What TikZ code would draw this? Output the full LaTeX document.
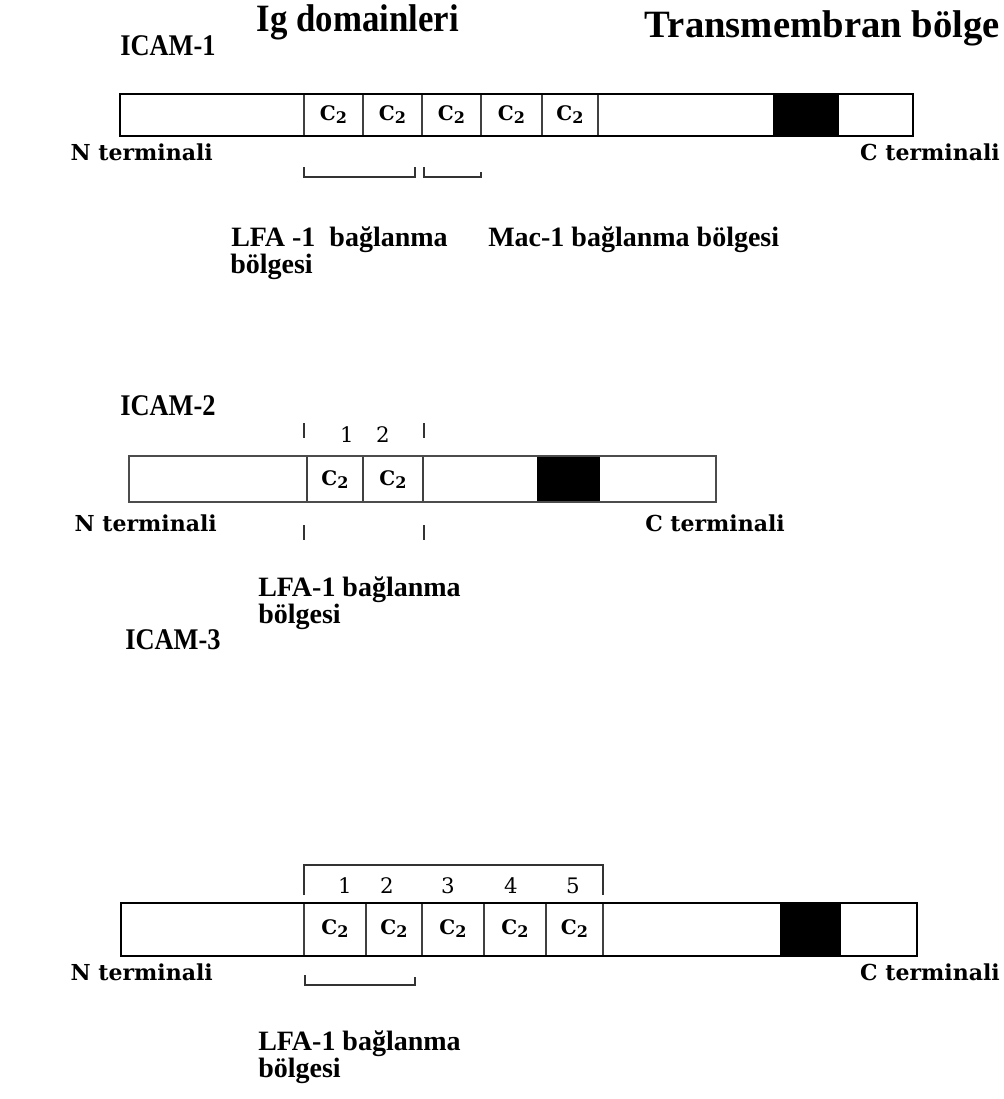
\documentclass[tikz,border=0pt]{standalone}
\usepackage{fontspec}
\setmainfont{Liberation Serif}
\newfontfamily\slab{DejaVu Serif}
\begin{document}
\begin{tikzpicture}[x=0.75pt,y=-0.75pt,
  box/.style={draw=black,line width=1.4pt},
  div/.style={draw=black!75,line width=1.3pt},
  tm/.style={draw=black,fill=black},
  brk/.style={draw=black!80,line width=1.1pt},
  hdr/.style={inner sep=0pt,font=\bfseries\fontsize{29}{32}\selectfont},
  icam/.style={inner sep=0pt,anchor=west,font=\bfseries\fontsize{22.5}{26}\selectfont},
  lbl/.style={inner sep=0pt,anchor=west,font=\bfseries\fontsize{21}{24}\selectfont},
  term/.style={inner sep=0pt,font=\slab\bfseries\fontsize{16.5}{18}\selectfont},
  num/.style={inner sep=0pt,font=\slab\fontsize{16}{17}\selectfont},
  cc/.style={inner sep=0pt,font=\slab\bfseries\fontsize{15}{16}\selectfont}]
\useasboundingbox (0,0) rectangle (1003,1099);
\newcommand{\ctwo}{C\raisebox{-0.15em}{\fontsize{12}{13}\selectfont 2}}
% headers
\node[hdr] (ig) at (358,22) {\scalebox{0.9}[1]{Ig domainleri}};
\node[hdr,anchor=east] (tmb) at (1000,28) {\scalebox{1.0}[1]{Transmembran bölge}};
% ================= ICAM-1
\node[icam] (i1) at (120,46) {\scalebox{0.88}[1]{ICAM-1}};
\fill[tm] (773,94) rectangle (838,136);
\foreach \x in {304,363,422,481,542,598}{\draw[div] (\x,94) -- (\x,136);}
\draw[box] (120,94) rectangle (913,136);
\foreach \a/\b [count=\i] in {304/363,363/422,422/481,481/542,542/598}{
  \node[cc] (a\i) at ({(\a+\b)/2},115) {\ctwo};}
\node[term,anchor=east] (an) at (213,152) {N terminali};
\node[term,anchor=east] (ac) at (1000,152) {C terminali};
\draw[brk] (304,167) -- (304,177) -- (415,177) -- (415,167);
\draw[brk] (424,167) -- (424,177) -- (481,177) -- (481,172);
\node[lbl] (al1) at (231,240) {LFA -1 \ bağlanma};
\node[lbl] (al2) at (230,267) {bölgesi};
\node[lbl] (am) at (488,240) {Mac-1 bağlanma bölgesi};
% ================= ICAM-2
\node[icam] (i2) at (120,406) {\scalebox{0.88}[1]{ICAM-2}};
\fill[tm] (537,456) rectangle (599,502);
\foreach \x in {307,363,423}{\draw[div] (\x,456) -- (\x,502);}
\draw[box,draw=black!70] (129,456) rectangle (716,502);
\node[cc] (b1) at (335,480) {\ctwo};
\node[cc] (b2) at (393,480) {\ctwo};
\draw[brk] (304,423) -- (304,438);
\draw[brk] (424,423) -- (424,438);
\node[num] (bn1) at (347,435) {1};
\node[num] (bn2) at (383,435) {2};
\node[term,anchor=east] (bn) at (217,523) {N terminali};
\node[term,anchor=west] (bc) at (645,523) {C terminali};
\draw[brk] (304,525) -- (304,540);
\draw[brk] (424,525) -- (424,540);
\node[lbl] (bl1) at (258,590) {LFA-1 bağlanma};
\node[lbl] (bl2) at (258,617) {bölgesi};
% ================= ICAM-3
\node[icam] (i3) at (125,640) {\scalebox{0.88}[1]{ICAM-3}};
\fill[tm] (780,903) rectangle (840,956);
\foreach \x in {304,366,422,484,546,603}{\draw[div] (\x,903) -- (\x,956);}
\draw[box] (121,903) rectangle (917,956);
\foreach \a/\b [count=\i] in {304/366,366/422,422/484,484/546,546/603}{
  \node[cc] (c\i) at ({(\a+\b)/2},929) {\ctwo};}
\draw[brk] (304,895) -- (304,865) -- (603,865) -- (603,895);
\foreach \x/\n in {345/1,387/2,448/3,511/4,573/5}{
  \node[num] (cn\n) at (\x,886) {\n};}
\node[term,anchor=east] (cnt) at (213,972) {N terminali};
\node[term,anchor=east] (cct) at (1000,972) {C terminali};
\draw[brk] (305,975) -- (305,985) -- (415,985) -- (415,977);
\node[lbl] (cl1) at (258,1044) {LFA-1 bağlanma};
\node[lbl] (cl2) at (258,1071) {bölgesi};
\end{tikzpicture}
\end{document}
